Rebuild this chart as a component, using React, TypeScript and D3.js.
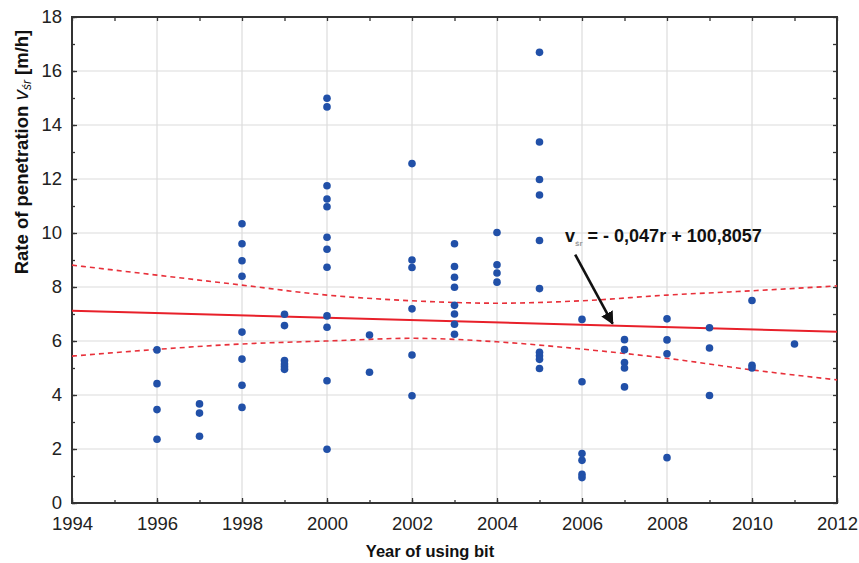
import React, { useRef, useEffect } from "react";
import * as d3 from "d3";

// measured points, one list per year of using the bit
const years = [1996, 1997, 1998, 1999, 2000, 2001, 2002, 2003, 2004, 2005, 2006, 2007, 2008, 2009, 2010, 2011];
const rates = [
  [5.67, 4.42, 3.46, 2.36],
  [3.67, 3.33, 2.47],
  [10.34, 9.6, 8.97, 8.4, 6.33, 5.33, 4.36, 3.54],
  [6.99, 6.57, 5.28, 5.15, 5.05, 4.95],
  [14.99, 14.67, 11.75, 11.26, 10.97, 9.84, 9.4, 8.73, 6.93, 6.51, 4.53, 1.99],
  [6.22, 4.84],
  [12.57, 9.0, 8.72, 7.19, 5.48, 3.97],
  [9.6, 8.76, 8.36, 7.99, 7.32, 7.0, 6.62, 6.25],
  [10.02, 8.82, 8.52, 8.18],
  [16.69, 13.37, 11.98, 11.41, 9.72, 7.94, 5.58, 5.45, 5.32, 4.98],
  [6.8, 4.49, 1.83, 1.58, 1.06, 0.94],
  [6.05, 5.68, 5.2, 5.0, 4.3],
  [6.82, 6.04, 5.53, 1.68],
  [6.49, 5.74, 3.98],
  [7.5, 5.1, 5.0],
  [5.89],
];

// fitted line and its confidence band
const fitYears = [1994, 2012];
const fitValues = [7.12, 6.34];
const bandYears = [1994, 1996, 1998, 2000, 2002, 2004, 2006, 2008, 2010, 2012];
const bandUpper = [8.81, 8.44, 8.07, 7.7, 7.49, 7.4, 7.49, 7.7, 7.86, 8.04];
const bandLower = [5.44, 5.69, 5.89, 6.0, 6.1, 5.97, 5.7, 5.36, 4.93, 4.56];

const xTicks = [1994, 1996, 1998, 2000, 2002, 2004, 2006, 2008, 2010, 2012];
const yTicks = [0, 2, 4, 6, 8, 10, 12, 14, 16, 18];

const W = 859;
const H = 563;
const FONT = "'Liberation Sans', Arial, sans-serif";

const App = () => {
  const ref = useRef<SVGSVGElement>(null);

  useEffect(() => {
    const margin = { top: 17, right: 22, bottom: 60, left: 72 };
    const svg = d3.select(ref.current);
    svg.selectAll("*").remove();

    const x = d3.scaleLinear().domain([1994, 2012]).range([margin.left, W - margin.right]);
    const y = d3.scaleLinear().domain([0, 18]).range([H - margin.bottom, margin.top]);

    svg.append("rect").attr("width", W).attr("height", H).attr("fill", "#fff");

    // grid
    svg
      .append("g")
      .selectAll("line.gx")
      .data(xTicks.slice(1, -1))
      .enter()
      .append("line")
      .attr("x1", (d) => x(d))
      .attr("x2", (d) => x(d))
      .attr("y1", y(0))
      .attr("y2", y(18))
      .attr("stroke", "#dcdcdc")
      .attr("stroke-width", 1.2);
    svg
      .append("g")
      .selectAll("line.gy")
      .data(yTicks.slice(1, -1))
      .enter()
      .append("line")
      .attr("x1", x(1994))
      .attr("x2", x(2012))
      .attr("y1", (d) => y(d))
      .attr("y2", (d) => y(d))
      .attr("stroke", "#dcdcdc")
      .attr("stroke-width", 1.2);

    // axes: major ticks with labels, minor ticks without, ticks pointing inside
    const minorX = d3.range(1994, 2013, 1);
    const minorY = d3.range(0, 19, 1);
    const styleAxis = (g) => {
      g.select(".domain").remove();
      g.selectAll("line").attr("stroke", "#333").attr("stroke-width", 1.3);
      g.selectAll("text").attr("font-family", FONT).attr("font-size", 18.5).attr("fill", "#222");
    };

    svg
      .append("g")
      .attr("transform", `translate(0,${y(0)})`)
      .call(d3.axisBottom(x).tickValues(minorX).tickSize(-3).tickFormat(() => ""))
      .call(styleAxis);
    svg
      .append("g")
      .attr("transform", `translate(0,${y(0)})`)
      .call(d3.axisBottom(x).tickValues(xTicks).tickSizeInner(-5).tickSizeOuter(0).tickPadding(14).tickFormat(d3.format("d")))
      .call(styleAxis);
    svg
      .append("g")
      .attr("transform", `translate(0,${y(18)})`)
      .call(d3.axisTop(x).tickValues(minorX).tickSize(-4).tickFormat(() => ""))
      .call(styleAxis);

    svg
      .append("g")
      .attr("transform", `translate(${x(1994)},0)`)
      .call(d3.axisLeft(y).tickValues(minorY).tickSize(-3).tickFormat(() => ""))
      .call(styleAxis);
    svg
      .append("g")
      .attr("transform", `translate(${x(1994)},0)`)
      .call(d3.axisLeft(y).tickValues(yTicks).tickSizeInner(-5).tickSizeOuter(0).tickPadding(10))
      .call(styleAxis);
    svg
      .append("g")
      .attr("transform", `translate(${x(2012)},0)`)
      .call(d3.axisRight(y).tickValues(minorY).tickSize(-4).tickFormat(() => ""))
      .call(styleAxis);

    // frame
    svg
      .append("rect")
      .attr("x", x(1994))
      .attr("y", y(18))
      .attr("width", x(2012) - x(1994))
      .attr("height", y(0) - y(18))
      .attr("fill", "none")
      .attr("stroke", "#333")
      .attr("stroke-width", 2);

    // confidence band
    const bandLine = d3
      .line<number>()
      .x((d, i) => x(bandYears[i]))
      .y((d) => y(d))
      .curve(d3.curveMonotoneX);
    [bandUpper, bandLower].forEach((band) => {
      svg
        .append("path")
        .attr("d", bandLine(band))
        .attr("fill", "none")
        .attr("stroke", "#e8303a")
        .attr("stroke-width", 1.6)
        .attr("stroke-dasharray", "5,4");
    });

    // regression line
    svg
      .append("path")
      .attr("d", d3.line<number>().x((d, i) => x(fitYears[i])).y((d) => y(d))(fitValues))
      .attr("fill", "none")
      .attr("stroke", "#e8202a")
      .attr("stroke-width", 2);

    // points
    const pts = years.flatMap((yr, i) => rates[i].map((v) => ({ yr, v })));
    svg
      .append("g")
      .selectAll("circle")
      .data(pts)
      .enter()
      .append("circle")
      .attr("cx", (d) => x(d.yr))
      .attr("cy", (d) => y(d.v))
      .attr("r", 3.8)
      .attr("fill", "#2150a8");

    // equation + arrow
    svg
      .append("defs")
      .append("marker")
      .attr("id", "head")
      .attr("viewBox", "0 0 10 10")
      .attr("refX", 9)
      .attr("refY", 5)
      .attr("markerWidth", 5)
      .attr("markerHeight", 5)
      .attr("orient", "auto")
      .append("path")
      .attr("d", "M0,0 L10,5 L0,10 z")
      .attr("fill", "#111");
    svg
      .append("line")
      .attr("x1", x(2005.84))
      .attr("y1", y(9.2))
      .attr("x2", x(2006.72))
      .attr("y2", y(6.64))
      .attr("stroke", "#111")
      .attr("stroke-width", 2.6)
      .attr("marker-end", "url(#head)");

    const eq = svg
      .append("text")
      .attr("x", x(2005.6))
      .attr("y", y(9.65))
      .attr("font-family", FONT)
      .attr("font-weight", "bold")
      .attr("font-size", 18)
      .attr("fill", "#111");
    eq.append("tspan").text("v");
    eq.append("tspan").attr("dy", 4).attr("font-size", 8).attr("fill", "#999").text("śr");
    eq.append("tspan").attr("dy", -4).text(" = - 0,047r + 100,8057");

    // axis titles
    svg
      .append("text")
      .attr("x", 430)
      .attr("y", H - 6)
      .attr("text-anchor", "middle")
      .attr("font-family", FONT)
      .attr("font-weight", "bold")
      .attr("font-size", 16.5)
      .attr("fill", "#111")
      .text("Year of using bit");

    const yl = svg
      .append("text")
      .attr("transform", `translate(28,${y(13)}) rotate(-90)`)
      .attr("text-anchor", "middle")
      .attr("font-family", FONT)
      .attr("font-weight", "bold")
      .attr("font-size", 18.5)
      .attr("fill", "#111");
    yl.append("tspan").text("Rate of penetration  ");
    yl.append("tspan").attr("font-style", "italic").attr("font-weight", "normal").attr("font-size", 21).text("v");
    yl.append("tspan").attr("font-style", "italic").attr("font-weight", "normal").attr("font-size", 12).attr("dy", 3).text("śr");
    yl.append("tspan").attr("dy", -3).text(" [m/h]");
  }, []);

  return (
    <>
      <style>{`body{margin:0}`}</style>
      <svg ref={ref} width={W} height={H} style={{ display: "block" }}></svg>
    </>
  );
};

export default App;
